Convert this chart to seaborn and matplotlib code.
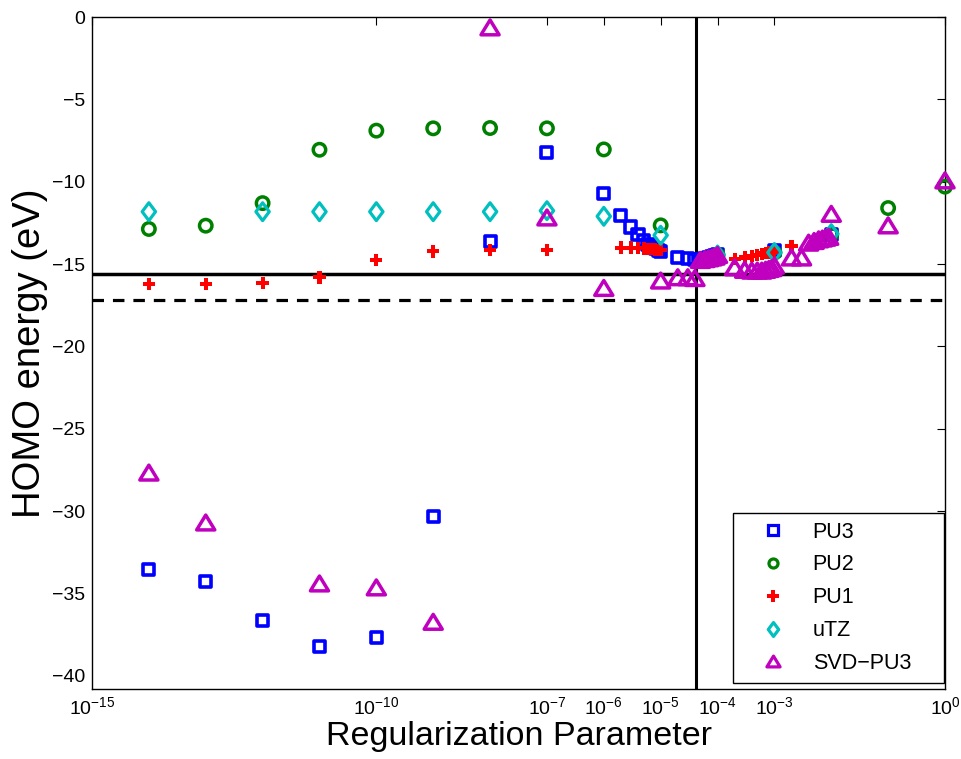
import numpy as np
import pandas as pd
import matplotlib
matplotlib.use("Agg")
import matplotlib.pyplot as plt
import seaborn as sns
from matplotlib.lines import Line2D
from matplotlib.path import Path
from matplotlib.ticker import FixedLocator, LogFormatterSciNotation

# ---------------- data ----------------
pu3_x = [1e-14, 1e-13, 1e-12, 1e-11, 1e-10, 1e-9, 1e-8, 1e-7, 1e-6,
         2e-6, 3e-6, 4e-6, 5e-6, 6e-6, 7e-6, 8e-6, 9e-6, 1e-5,
         2e-5, 3e-5, 4e-5, 5e-5, 6e-5, 7e-5, 8e-5, 9e-5, 1e-4, 1e-3, 1e-2]
pu3_y = [-33.57, -34.29, -36.62, -38.24, -37.67, -30.31, -13.62, -8.22, -10.72,
         -12.05, -12.75, -13.2, -13.55, -13.8, -13.95, -14.05, -14.15, -14.25,
         -14.6, -14.65, -14.7, -14.7, -14.65, -14.6, -14.55, -14.5, -14.45, -14.2, -13.2]

pu2_x = [1e-14, 1e-13, 1e-12, 1e-11, 1e-10, 1e-9, 1e-8, 1e-7, 1e-6, 1e-5,
         1e-4, 1e-3, 1e-2, 1e-1, 1.0]
pu2_y = [-12.87, -12.67, -11.30, -8.06, -6.90, -6.76, -6.74, -6.76, -8.04, -12.65,
         -14.45, -14.3, -13.2, -11.6, -10.3]

pu1_x = [1e-14, 1e-13, 1e-12, 1e-11, 1e-10, 1e-9, 1e-8, 1e-7,
         2e-6, 3e-6, 4e-6, 5e-6, 6e-6, 7e-6, 8e-6, 9e-6, 1e-5,
         2e-4, 3e-4, 4e-4, 5e-4, 6e-4, 7e-4, 8e-4, 9e-4, 1e-3, 2e-3]
pu1_y = [-16.21, -16.21, -16.17, -15.81, -14.76, -14.23, -14.15, -14.15,
         -14.0, -14.0, -14.02, -14.05, -14.07, -14.1, -14.12, -14.14, -14.16,
         -14.7, -14.6, -14.5, -14.45, -14.4, -14.35, -14.3, -14.25, -14.2, -13.9]

utz_x = [1e-14, 1e-12, 1e-11, 1e-10, 1e-9, 1e-8, 1e-7, 1e-6, 1e-5, 1e-4, 1e-3, 1e-2]
utz_y = [-11.82, -11.82, -11.82, -11.82, -11.82, -11.82, -11.76, -12.1, -13.25,
         -14.45, -14.3, -13.15]

svd_x = [1e-14, 1e-13, 1e-11, 1e-10, 1e-9, 1e-8, 1e-7, 1e-6, 1e-5, 2e-5, 3e-5,
         4e-5, 5e-5, 6e-5, 7e-5, 8e-5, 9e-5, 1e-4,
         2e-4, 3e-4, 4e-4, 5e-4, 6e-4, 7e-4, 8e-4, 9e-4, 1e-3,
         2e-3, 3e-3, 4e-3, 5e-3, 6e-3, 7e-3, 8e-3, 9e-3, 1e-2, 1e-1, 1.0]
svd_y = [-27.66, -30.69, -34.39, -34.63, -36.72, -0.63, -12.17, -16.45, -16.0, -15.8, -15.8,
         -15.85, -14.75, -14.7, -14.65, -14.6, -14.55, -14.45,
         -15.2, -15.35, -15.4, -15.4, -15.4, -15.35, -15.3, -15.25, -15.1,
         -14.6, -14.6, -13.7, -13.6, -13.5, -13.45, -13.4, -13.35, -11.95, -12.65, -9.92]

series_names = ["PU3", "PU2", "PU1", "uTZ", "SVD\u2212PU3"]
series_x = [pu3_x, pu2_x, pu1_x, utz_x, svd_x]
series_y = [pu3_y, pu2_y, pu1_y, utz_y, svd_y]

ref_vline_x = [4.2e-5]
ref_hline_solid = [-15.6]
ref_hline_dashed = [-17.2]

xtick_vals = [1e-15, 1e-10, 1e-7, 1e-6, 1e-5, 1e-4, 1e-3, 1e0]
ylims = (-40.8, 0)
xlims = (1e-15, 1e0)

# ---------------- styling ----------------
sns.set_theme(style="white")
plt.rcParams["font.family"] = ["Liberation Sans", "DejaVu Sans"]
plt.rcParams["mathtext.fontset"] = "custom"
plt.rcParams["mathtext.rm"] = "Liberation Sans"
plt.rcParams["mathtext.it"] = "Liberation Sans:italic"
plt.rcParams["mathtext.bf"] = "Liberation Sans:bold"
for k in ["text.color", "axes.labelcolor", "xtick.color", "ytick.color"]:
    plt.rcParams[k] = "black"

diamond = Path([(0, 1), (0.75, 0), (0, -1), (-0.75, 0), (0, 1)],
               [Path.MOVETO, Path.LINETO, Path.LINETO, Path.LINETO, Path.CLOSEPOLY])
triangle = Path([(0, 0.82), (1, -0.82), (-1, -0.82), (0, 0.82)],
                [Path.MOVETO, Path.LINETO, Path.LINETO, Path.CLOSEPOLY])

colors = ["#0000ff", "#008000", "#ff0000", "#00bfbf", "#bf00bf"]
markers = ["s", "o", "P", diamond, triangle]
sizes = [64, 80, 78, 165, 170]
lws = [2.6, 2.5, 0.0, 2.3, 2.5]

fig = plt.figure(figsize=(9.62, 7.59), dpi=100)
ax = fig.add_axes([92 / 962, 1 - 689 / 759, (945 - 92) / 962, (689 - 17) / 759])

df = pd.concat([pd.DataFrame({"x": xs, "y": ys, "series": n})
                for n, xs, ys in zip(series_names, series_x, series_y)], ignore_index=True)

for name, c, m, s, lw in zip(series_names, colors, markers, sizes, lws):
    sub = df[df["series"] == name]
    if isinstance(m, str) and m == "P":
        sns.scatterplot(data=sub, x="x", y="y", marker="P", color=c, s=s,
                        edgecolor="none", linewidth=0, ax=ax, legend=False,
                        zorder=3, clip_on=False)
    else:
        sns.scatterplot(data=sub, x="x", y="y", marker=m, color=c, s=s,
                        facecolor="none", edgecolor=c, linewidth=lw, ax=ax,
                        legend=False, zorder=3, clip_on=False)

for v in ref_vline_x:
    ax.axvline(v, color="black", lw=2.2, zorder=2)
for h in ref_hline_solid:
    ax.axhline(h, color="black", lw=2.5, zorder=2)
for h in ref_hline_dashed:
    ax.axhline(h, color="black", lw=2.3, ls=(0, (3.6, 2.8)), zorder=2)

ax.set_xscale("log")
ax.set_xlim(*xlims)
ax.set_ylim(*ylims)
ax.xaxis.set_major_locator(FixedLocator(xtick_vals))
ax.xaxis.set_major_formatter(LogFormatterSciNotation())
ax.xaxis.set_minor_locator(FixedLocator([]))
ax.set_yticks(np.arange(-40, 1, 5))
ax.tick_params(axis="both", which="major", direction="in", length=5.5, width=0.8,
               labelsize=14, top=True, right=True, pad=5, colors="black")
for sp in ax.spines.values():
    sp.set_color("black")
    sp.set_linewidth(1.0)
ax.grid(False)

ax.set_xlabel("Regularization Parameter", fontsize=24.5, labelpad=2)
ax.set_ylabel("HOMO energy (eV)", fontsize=27.5, labelpad=3)

handles = []
for name, c, m in zip(series_names, colors, markers):
    if isinstance(m, str) and m == "P":
        handles.append(Line2D([], [], ls="", marker="P", color=c, markersize=8,
                              markeredgewidth=0))
    else:
        ms = 6.5
        if m is triangle:
            ms = 9.5
        elif m is diamond:
            ms = 10
        handles.append(Line2D([], [], ls="", marker=m, markerfacecolor="none",
                              markeredgecolor=c, markersize=ms,
                              markeredgewidth=2.3))
leg = ax.legend(handles, series_names, loc="upper left",
                bbox_to_anchor=((733 - 92) / 853, (689 - 513) / 672, (944 - 733) / 853, 0.0),
                mode="expand", fontsize=15.5, frameon=True, fancybox=False,
                framealpha=1, edgecolor="black", borderpad=0.4, labelspacing=0.55,
                handlelength=2.9, handletextpad=0.4, borderaxespad=0)
leg.get_frame().set_linewidth(1.0)

fig.savefig("out.png", dpi=100)
